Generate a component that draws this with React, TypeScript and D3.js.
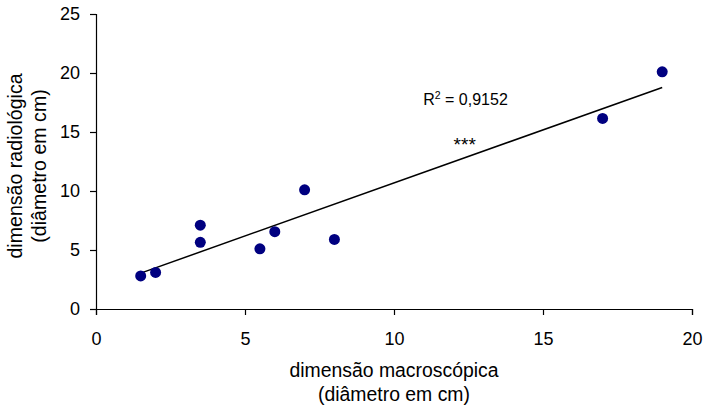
import { useEffect, useMemo, useRef } from "react";
import * as d3 from "d3";

const WIDTH = 704;
const HEIGHT = 407;
const MARGIN = { top: 14, right: 12, bottom: 98, left: 96 };

// macroscopic diameter (cm) vs radiological diameter (cm)
const macroDiam = [1.5, 2, 3.5, 3.5, 5.5, 6, 7, 8, 17, 19];
const radioDiam = [2.8, 3.1, 7.1, 5.65, 5.1, 6.55, 10.1, 5.9, 16.15, 20.1];
const xTicks = [0, 5, 10, 15, 20];
const yTicks = [0, 5, 10, 15, 20, 25];
const r2Label = "0,9152";

const FONT = "'Liberation Sans', Arial, sans-serif";

export default function App() {
  const axesRef = useRef<SVGGElement>(null);
  const boundsWidth = WIDTH - MARGIN.left - MARGIN.right;
  const boundsHeight = HEIGHT - MARGIN.top - MARGIN.bottom;

  const xScale = useMemo(
    () => d3.scaleLinear().domain([0, 20]).range([0, boundsWidth]),
    [boundsWidth]
  );
  const yScale = useMemo(
    () => d3.scaleLinear().domain([0, 25]).range([boundsHeight, 0]),
    [boundsHeight]
  );

  // least squares trendline over the data range
  const trend = useMemo(() => {
    const mx = d3.mean(macroDiam)!;
    const my = d3.mean(radioDiam)!;
    let sxy = 0;
    let sxx = 0;
    macroDiam.forEach((x, i) => {
      sxy += (x - mx) * (radioDiam[i] - my);
      sxx += (x - mx) * (x - mx);
    });
    const slope = sxy / sxx;
    const intercept = my - slope * mx;
    const [x0, x1] = d3.extent(macroDiam) as [number, number];
    return [
      [x0, intercept + slope * x0],
      [x1, intercept + slope * x1],
    ];
  }, []);

  useEffect(() => {
    const g = d3.select(axesRef.current);
    g.selectAll("*").remove();

    const xAxis = g
      .append("g")
      .attr("transform", `translate(0,${boundsHeight})`)
      .call(d3.axisBottom(xScale).tickValues(xTicks).tickSize(6).tickPadding(17));
    const yAxis = g
      .append("g")
      .call(d3.axisLeft(yScale).tickValues(yTicks).tickSize(6).tickPadding(10));

    [xAxis, yAxis].forEach((ax) => {
      ax.attr("font-family", FONT).attr("font-size", 18);
      ax.selectAll("path, line").attr("stroke", "#000").attr("stroke-width", 1.2);
      ax.selectAll("text").attr("fill", "#000");
    });
  }, [xScale, yScale, boundsHeight]);

  const line = d3
    .line<number[]>()
    .x((d) => xScale(d[0]))
    .y((d) => yScale(d[1]));

  const xMid = MARGIN.left + boundsWidth / 2;

  return (
    <svg
      width={WIDTH}
      height={HEIGHT}
      style={{ position: "absolute", left: 0, top: 0, background: "#fff" }}
    >
      <g transform={`translate(${MARGIN.left},${MARGIN.top})`}>
        <path d={line(trend) ?? ""} stroke="#000" strokeWidth={1.5} fill="none" />
        {macroDiam.map((x, i) => (
          <circle
            key={i}
            cx={xScale(x)}
            cy={yScale(radioDiam[i])}
            r={5.5}
            fill="#000080"
          />
        ))}
        <text
          x={xScale(10.98)}
          y={yScale(17.3)}
          fontFamily={FONT}
          fontSize={16}
          fill="#000"
        >
          R<tspan dy={-6} fontSize={10.5}>2</tspan>
          <tspan dy={6}>{` = ${r2Label}`}</tspan>
        </text>
        <text
          x={xScale(12.0)}
          y={yScale(13.4)}
          fontFamily={FONT}
          fontSize={19}
          fill="#000"
        >
          ***
        </text>
      </g>
      <g ref={axesRef} transform={`translate(${MARGIN.left},${MARGIN.top})`} />
      <text
        x={xMid}
        y={377}
        textAnchor="middle"
        fontFamily={FONT}
        fontSize={19.4}
      >
        <tspan x={xMid}>dimensão macroscópica</tspan>
        <tspan x={xMid} dy={24}>
          (diâmetro em cm)
        </tspan>
      </text>
      <text
        transform={`translate(22,166) rotate(-90)`}
        textAnchor="middle"
        fontFamily={FONT}
        fontSize={19.6}
      >
        <tspan x={0}>dimensão radiológica</tspan>
        <tspan x={0} dy={24}>
          (diâmetro em cm)
        </tspan>
      </text>
    </svg>
  );
}
